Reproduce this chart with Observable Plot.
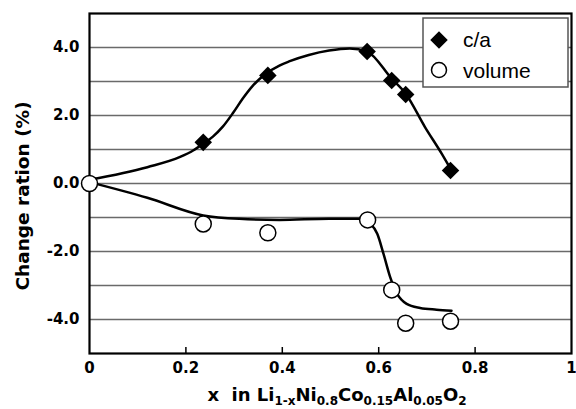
<!DOCTYPE html>
<html><head><meta charset="utf-8">
<script src="https://cdn.jsdelivr.net/npm/d3@7"></script>
<script src="https://cdn.jsdelivr.net/npm/@observablehq/plot@0.6"></script>
<style>body{margin:0;background:#fff;} #chart{width:576px;height:409px;}</style>
</head><body><div id="chart"></div>
<script>
// c/a data (filled diamonds)
const caX = [0.236, 0.370, 0.576, 0.627, 0.656, 0.749];
const caY = [1.21, 3.18, 3.88, 3.03, 2.62, 0.38];
// volume data (open circles)
const volX = [0, 0.236, 0.370, 0.577, 0.627, 0.656, 0.749];
const volY = [0, -1.19, -1.45, -1.07, -3.13, -4.11, -4.05];
// hand-drawn fit curves
const caFitX = [0, 0.12, 0.188, 0.215, 0.236, 0.256, 0.277, 0.298, 0.318, 0.339, 0.366, 0.394, 0.414, 0.455, 0.497, 0.54, 0.576, 0.627, 0.656, 0.696, 0.731, 0.749];
const caFitY = [0.11, 0.48, 0.78, 0.97, 1.17, 1.38, 1.68, 2.08, 2.50, 2.88, 3.23, 3.47, 3.59, 3.78, 3.91, 3.97, 3.88, 3.08, 2.64, 1.66, 0.87, 0.43];
const volFitX = [0, 0.12, 0.236, 0.311, 0.394, 0.497, 0.561, 0.583, 0.597, 0.61, 0.624, 0.638, 0.658, 0.686, 0.72, 0.751];
const volFitY = [0.04, -0.42, -0.94, -1.04, -1.07, -1.04, -1.04, -1.19, -1.48, -2.07, -2.76, -3.24, -3.54, -3.66, -3.71, -3.74];
// axes
const xTicks = [0, 0.2, 0.4, 0.6, 0.8, 1];
const yTicks = [-4, -2, 0, 2, 4];
const yGrid = [-4, -3, -2, -1, 0, 1, 2, 3, 4];
const xDomain = [0, 1];
const yDomain = [-5, 5];
const yLabel = "Change ration (%)";
const seriesNames = ["c/a", "volume"];

const ca = caX.map((x, i) => ({x, y: caY[i]}));
const vol = volX.map((x, i) => ({x, y: volY[i]}));
const caFit = caFitX.map((x, i) => ({x, y: caFitY[i]}));
const volFit = volFitX.map((x, i) => ({x, y: volFitY[i]}));

const plot = Plot.plot({
  width: 576, height: 409,
  marginLeft: 89, marginRight: 5, marginTop: 13, marginBottom: 56,
  x: {domain: xDomain},
  y: {domain: yDomain},
  style: {fontFamily: "DejaVu Sans", background: "white"},
  marks: [
    Plot.ruleY(yGrid, {stroke: "#6a6a6a", strokeWidth: 1.5}),
    Plot.ruleX(xTicks.slice(1, -1), {y1: yDomain[0], y2: yDomain[0], insetTop: -6, stroke: "black", strokeWidth: 1.5}),
    Plot.axisX({ticks: xTicks, tickFormat: d => (d === 0 || d === 1) ? String(d) : d.toFixed(1),
      tickSize: 0, tickPadding: 9, fontSize: 15, fontWeight: "bold", fill: "black", label: null}),
    Plot.axisY({ticks: yTicks, tickFormat: d => d.toFixed(1),
      tickSize: 0, tickPadding: 10, fontSize: 15, fontWeight: "bold", fill: "black", label: null}),
    Plot.frame({stroke: "black", strokeWidth: 2.2}),
    Plot.line(caFit, {x: "x", y: "y", curve: "monotone-x", stroke: "black", strokeWidth: 2.5}),
    Plot.line(volFit, {x: "x", y: "y", curve: "monotone-x", stroke: "black", strokeWidth: 2.5}),
    Plot.dot(vol, {x: "x", y: "y", r: 8, fill: "white", stroke: "black", strokeWidth: 1.5}),
    Plot.dot(ca, {x: "x", y: "y", symbol: "square", r: 7, rotate: 45, fill: "black", stroke: "none"})
  ]
});

const svg = d3.select(plot);
// y label
svg.append("text")
  .attr("transform", "translate(29,196) rotate(-90)")
  .attr("text-anchor", "middle")
  .style("font", "bold 18.5px 'DejaVu Sans'")
  .attr("fill", "black")
  .text(yLabel);
// x label with subscripts
const xl = svg.append("text")
  .attr("x", 337).attr("y", 401)
  .attr("text-anchor", "middle")
  .style("font", "bold 18px 'DejaVu Sans'")
  .attr("fill", "black");
const parts = [["x\u00a0\u00a0in Li", false], ["1-x", true], ["Ni", false], ["0.8", true], ["Co", false], ["0.15", true], ["Al", false], ["0.05", true], ["O", false], ["2", true]];
let sub = false;
parts.forEach(([t, s]) => {
  const ts = xl.append("tspan").text(t);
  if (s && !sub) ts.attr("dy", 4);
  if (!s && sub) ts.attr("dy", -4);
  if (s) ts.style("font-size", "12px");
  sub = s;
});
// legend
const lg = svg.append("g");
lg.append("rect").attr("x", 423).attr("y", 18).attr("width", 145).attr("height", 69)
  .attr("fill", "white").attr("stroke", "#555").attr("stroke-width", 1.5);
lg.append("path").attr("d", d3.symbol(d3.symbolSquare, Math.PI * 49)()).attr("transform", "translate(439,40) rotate(45)").attr("fill", "black");
lg.append("circle").attr("cx", 439).attr("cy", 70).attr("r", 7.5).attr("fill", "white").attr("stroke", "black").attr("stroke-width", 1.5);
lg.append("text").attr("x", 463).attr("y", 47).attr("text-anchor", "start").style("font", "21px 'Liberation Sans'").attr("fill", "black").text(seriesNames[0]);
lg.append("text").attr("x", 463).attr("y", 78).attr("text-anchor", "start").style("font", "21px 'Liberation Sans'").attr("fill", "black").text(seriesNames[1]);

document.getElementById("chart").appendChild(plot);
</script>
</body></html>
